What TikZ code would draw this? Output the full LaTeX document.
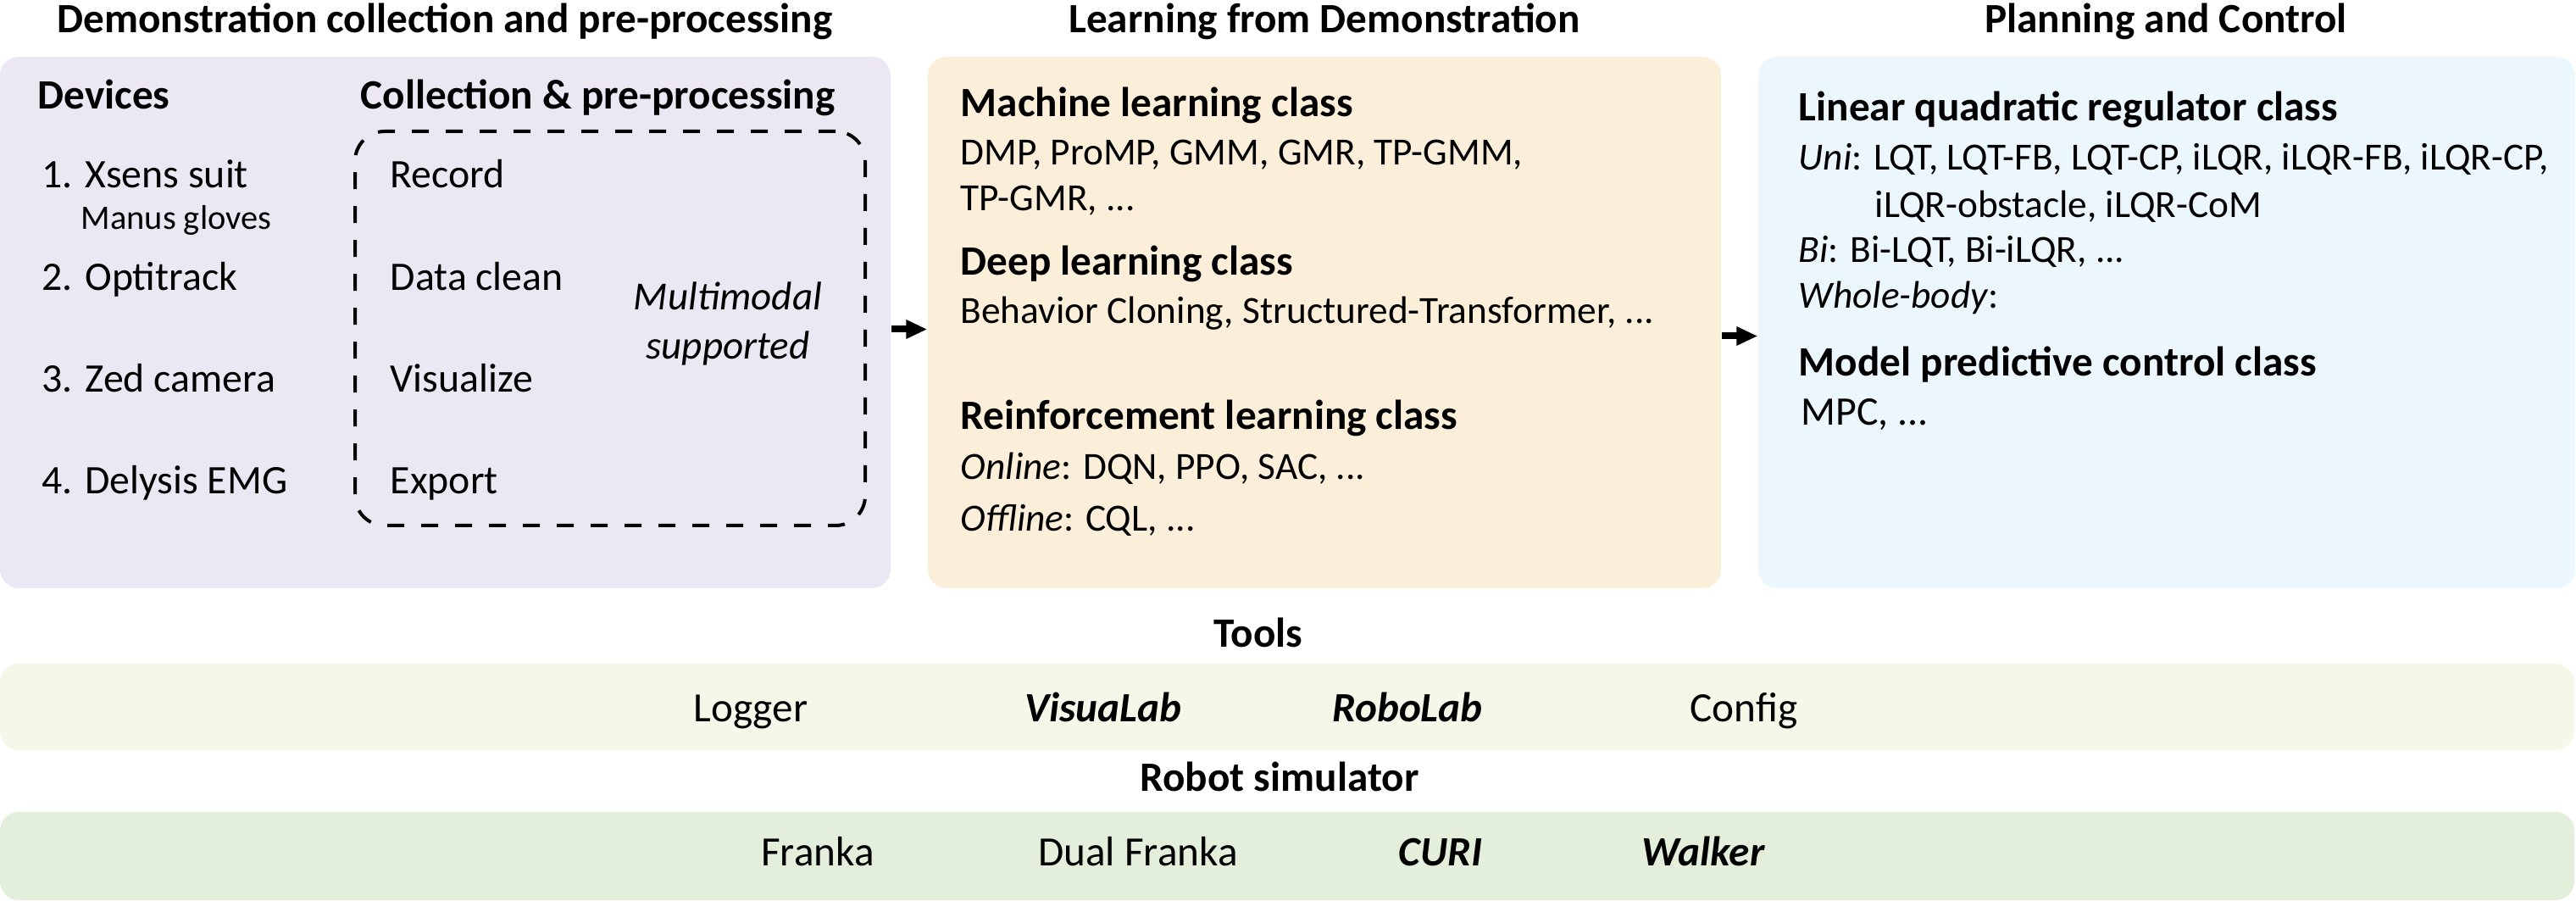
\documentclass[tikz,border=0pt]{standalone}
\usepackage{fontspec}
\setmainfont{Carlito}
\usetikzlibrary{arrows.meta, positioning}

\definecolor{demofill}{HTML}{EBE8F3}
\definecolor{lfdfill}{HTML}{FCEFDA}
\definecolor{planfill}{HTML}{EBF6FD}
\definecolor{toolfill}{HTML}{F5F8E9}
\definecolor{robotfill}{HTML}{E4EFDB}

\begin{document}
\begin{tikzpicture}[
  panel/.style={rounded corners=0.22cm, inner sep=0pt},
  title/.style={anchor=base, font=\fontsize{14}{17}\selectfont\bfseries},
  head/.style={anchor=base west, inner sep=0pt, font=\fontsize{14}{17}\selectfont\bfseries},
  txt/.style={anchor=base west, inner sep=0pt, font=\fontsize{12.9}{15}\selectfont},
  dev/.style={txt, font=\fontsize{13.6}{16}\selectfont},
  item/.style={anchor=base, inner sep=0pt, font=\fontsize{14}{17}\selectfont},
  bitem/.style={item, font=\fontsize{14}{17}\selectfont\bfseries\itshape},
  dashbox/.style={draw, line width=0.04cm, dash pattern=on 0.2cm off 0.2cm, rounded corners=0.35cm},
  arr/.style={-{Triangle[length=0.25cm, width=0.21cm]}, line width=0.08cm}
]
\useasboundingbox (0,0) rectangle (30.4,10.62);

% panels
\node[panel, fill=demofill, minimum width=10.51cm, minimum height=6.27cm] (demo) at (5.255,6.815) {};
\node[panel, fill=lfdfill, minimum width=9.36cm, minimum height=6.27cm] (lfd) at (15.63,6.815) {};
\node[panel, fill=planfill, minimum width=9.64cm, minimum height=6.27cm] (plan) at (25.57,6.815) {};
\node[panel, fill=toolfill, minimum width=30.38cm, minimum height=1.02cm] (toolbar) at (15.19,2.28) {};
\node[panel, fill=robotfill, minimum width=30.38cm, minimum height=1.04cm] (robotbar) at (15.19,0.52) {};

% titles
\node[title] (demotitle) at (5.25,10.23) {Demonstration collection and pre-processing};
\node[title] (lfdtitle) at (15.63,10.23) {Learning from Demonstration};
\node[title] (plantitle) at (25.56,10.23) {Planning and Control};
\node[title] (tooltitle) at (14.85,2.99) {Tools};
\node[title] (robottitle) at (15.10,1.29) {Robot simulator};

% demonstration collection
\node[head] (devices) at (0.44,9.33) {Devices};
\node[head] (collecthead) at (4.25,9.33) {Collection \& pre-processing};
\node[dashbox, minimum width=6.02cm, minimum height=4.65cm] (collect) at (7.20,6.745) {};
\node[dev] (xsens) at (0.49,8.40) {1. Xsens suit};
\node[txt, font=\fontsize{11.5}{13}\selectfont] (manus) at (0.95,7.91) {Manus gloves};
\node[dev] (opti) at (0.49,7.19) {2. Optitrack};
\node[dev] (zed) at (0.49,5.99) {3. Zed camera};
\node[dev] (emg) at (0.49,4.79) {4. Delysis EMG};
\node[dev] (record) at (4.60,8.40) {Record};
\node[dev] (clean) at (4.60,7.19) {Data clean};
\node[dev] (visual) at (4.60,5.99) {Visualize};
\node[dev] (export) at (4.60,4.79) {Export};
\node[align=center, font=\fontsize{13.4}{16.5}\selectfont\itshape] (multi) at (8.59,6.80) {Multimodal\\supported};

% learning from demonstration
\node[head] (mlhead) at (11.33,9.24) {Machine learning class};
\node[txt] (ml1) at (11.33,8.67) {DMP, ProMP, GMM, GMR, TP-GMM,};
\node[txt] (ml2) at (11.33,8.13) {TP-GMR, ...};
\node[head] (dlhead) at (11.33,7.37) {Deep learning class};
\node[txt] (dl1) at (11.33,6.80) {Behavior Cloning, Structured-Transformer, ...};
\node[head] (rlhead) at (11.33,5.55) {Reinforcement learning class};
\node[txt] (rl1) at (11.33,4.96) {\textit{Online}: DQN, PPO, SAC, ...};
\node[txt] (rl2) at (11.33,4.35) {\textit{Offline}: CQL, ...};

% planning and control
\node[head] (lqrhead) at (21.22,9.19) {Linear quadratic regulator class};
\node[txt] (uni1) at (21.22,8.61) {\textit{Uni}: LQT, LQT-FB, LQT-CP, iLQR, iLQR-FB, iLQR-CP,};
\node[txt] (uni2) at (22.12,8.05) {iLQR-obstacle, iLQR-CoM};
\node[txt] (bi) at (21.22,7.52) {\textit{Bi}: Bi-LQT, Bi-iLQR, ...};
\node[txt] (whole) at (21.22,6.98) {\textit{Whole-body}:};
\node[head] (mpchead) at (21.22,6.18) {Model predictive control class};
\node[dev] (mpc) at (21.25,5.60) {MPC, ...};

% tools and simulators
\node[item] (logger) at (8.86,2.11) {Logger};
\node[bitem] (visualab) at (13.02,2.11) {VisuaLab};
\node[bitem] (robolab) at (16.61,2.11) {RoboLab};
\node[item] (config) at (20.58,2.11) {Config};
\node[item] (franka) at (9.65,0.41) {Franka};
\node[item] (dualfranka) at (13.43,0.41) {Dual Franka};
\node[bitem] (curi) at (17.00,0.41) {CURI};
\node[bitem] (walker) at (20.10,0.41) {Walker};

\draw[arr] ([yshift=-0.08cm]demo.east) -- ([yshift=-0.08cm]lfd.west);
\draw[arr] ([yshift=-0.16cm]lfd.east) -- ([yshift=-0.16cm]plan.west);
\end{tikzpicture}
\end{document}
